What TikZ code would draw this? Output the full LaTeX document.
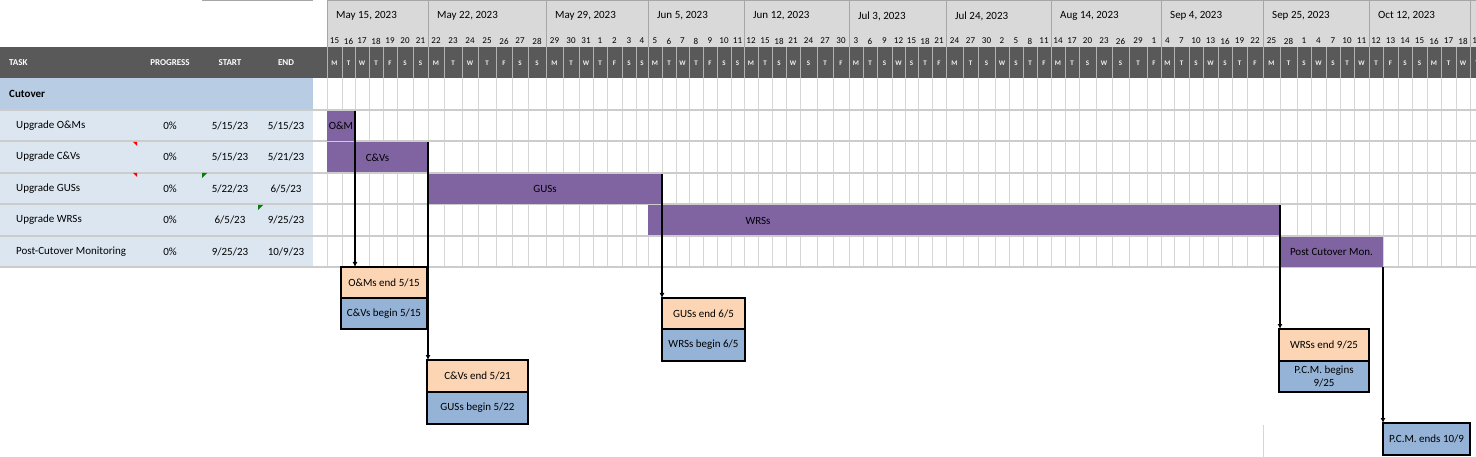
\documentclass[tikz,border=0pt]{standalone}
\usepackage{fontspec}
\setmainfont{Carlito}
\usetikzlibrary{positioning,arrows.meta}

\definecolor{hdrGray}{HTML}{D9D9D9}
\definecolor{darkHdr}{HTML}{595959}
\definecolor{cutBlue}{HTML}{B8CCE4}
\definecolor{rowBlue}{HTML}{DCE6F1}
\definecolor{barPurple}{HTML}{8064A2}
\definecolor{endPeach}{HTML}{FCD5B4}
\definecolor{beginBlue}{HTML}{95B3D7}
\definecolor{gridGray}{HTML}{D6D6D6}

\begin{document}
\begin{tikzpicture}[
            x=1pt, y=-1pt,
            font=\fontsize{11}{13}\selectfont,
            cell/.style={inner sep=0pt},
            hdrtext/.style={inner sep=0pt, text=white, font=\fontsize{9}{10}\selectfont\bfseries},
            daynum/.style={inner sep=0pt, font=\fontsize{9}{10}\selectfont},
            dayletter/.style={inner sep=0pt, text=white!88!gray, font=\fontsize{7}{8}\selectfont\bfseries},
            bar/.style={rectangle, fill=barPurple, anchor=north west, minimum height=30, inner sep=1pt, outer sep=0pt},
            endbox/.style={rectangle, draw=black, fill=endPeach, line width=1.5pt, anchor=north west, inner sep=1pt, outer sep=0pt, align=center},
            beginbox/.style={endbox, fill=beginBlue},
            arrow/.style={-{Latex[length=5pt, width=5pt]}, line width=1.5pt},
            gridline/.style={gridGray, line width=1pt},
            rowline/.style={gray!40, line width=2pt}
        ]
        \useasboundingbox (0,0) rectangle (1476,457);
        \clip (0,0) rectangle (1476,457);

        % Header bands
        \fill[hdrGray] (327,0) rectangle (1476,47);
        \fill[darkHdr] (0,47) rectangle (1476,78);
        \draw[gray!70, line width=1pt] (202,0.5) -- (313,0.5);
        \draw[gray!70, line width=1pt] (327,0.5) -- (1476,0.5);

        % Task table
        \fill[cutBlue] (0,78) rectangle (313,110);
        \fill[rowBlue] (0,110) rectangle (313,267);

        % Weeks
        \foreach \b/\wk [count=\i] in {327/{May 15, 2023}, 428/{May 22, 2023}, 546/{May 29, 2023}, 648/{Jun 5, 2023}, 744/{Jun 12, 2023}, 849/{Jul 3, 2023}, 946/{Jul 24, 2023}, 1051/{Aug 14, 2023}, 1161/{Sep 4, 2023}, 1263/{Sep 25, 2023}, 1369/{Oct 12, 2023}} {
            \draw[gray!70, line width=1pt] (\b,0) -- (\b,47);
            \node[cell, anchor=west, name=wk\i] at (\b+9,16) {\wk};
        }
        \draw[gray!70, line width=1pt] (1470,0) -- (1470,47);

        % Days
        \foreach \xr/\dnum/\dlet [count=\i, remember=\xr as \px (initially 327)] in {
            342/15/M, 355/16/T, 369/17/W, 383/18/T, 397/19/F, 413/20/S, 428/21/S,
            444/22/M, 462/23/T, 478/24/W, 496/25/T, 512/26/F, 528/27/S, 546/28/S,
            563/29/M, 579/30/T, 593/31/W, 607/1/T, 622/2/F, 636/3/S, 648/4/S,
            662/5/M, 676/6/T, 689/7/W, 703/8/T, 717/9/F, 731/10/S, 744/11/S,
            758/12/M, 772/15/T, 786/18/S, 800/21/W, 817/24/S, 833/27/T, 849/30/F,
            863/3/M, 877/6/T, 892/9/S, 905/12/W, 918/15/S, 932/18/T, 946/21/F,
            963/24/M, 978/27/T, 995/30/S, 1009/2/W, 1023/5/S, 1037/8/T, 1051/11/F,
            1065/14/M, 1079/17/T, 1096/20/S, 1112/23/W, 1129/26/S, 1147/29/T, 1161/1/F,
            1174/4/M, 1189/7/T, 1203/10/S, 1218/13/W, 1232/16/S, 1247/19/T, 1263/22/F,
            1280/25/M, 1297/28/T, 1311/1/S, 1326/4/W, 1340/7/S, 1354/10/T, 1369/11/W,
            1383/12/T, 1398/13/F, 1412/14/S, 1427/15/S, 1441/16/M, 1456/17/T, 1470/18/W,
            1484/19/T} {
            \node[daynum, name=dn\i] at ({(\px+\xr)/2},41) {\dnum};
            \node[dayletter, name=dl\i] at ({(\px+\xr)/2},63) {\dlet};
            \draw[gray!60, line width=1pt] (\xr,47) -- (\xr,78);
            \draw[gridline] (\xr,78) -- (\xr,267);
        }
        \draw[gray!60, line width=1pt] (327,47) -- (327,78);
        \draw[gridline] (327,78) -- (327,267);

        % Row separators
        \foreach \y in {110,141.5,173,204.5,236,267}
            \draw[rowline] (0,\y) -- (1476,\y);

        % Table text
        \node[hdrtext, anchor=west] (hTask) at (9,63) {TASK};
        \node[hdrtext] (hProg) at (170,63) {PROGRESS};
        \node[hdrtext] (hStart) at (230,63) {START};
        \node[hdrtext] (hEnd) at (286,63) {END};
        \node[cell, anchor=west, font=\fontsize{11}{13}\selectfont\bfseries] (cutover) at (9,94) {Cutover};

        \foreach \y/\task/\tstart/\tend [count=\r] in {126/{Upgrade O\&Ms}/{5/15/23}/{5/15/23}, 157/{Upgrade C\&Vs}/{5/15/23}/{5/21/23}, 188.5/{Upgrade GUSs}/{5/22/23}/{6/5/23}, 220/{Upgrade WRSs}/{6/5/23}/{9/25/23}, 251.5/{Post-Cutover Monitoring}/{9/25/23}/{10/9/23}} {
            \node[cell, anchor=west, name=task\r] at (16,\y) {\task};
            \node[cell, name=prog\r] at (170,\y) {0\%};
            \node[cell, name=start\r] at (230,\y) {\tstart};
            \node[cell, name=end\r] at (286,\y) {\tend};
        }

        % Comment markers
        \fill[red] (133,142) -- (137,142) -- (137,146) -- cycle;
        \fill[red] (133,173) -- (137,173) -- (137,177) -- cycle;
        \fill[green!50!black] (202,173) -- (207,173) -- (202,178) -- cycle;
        \fill[green!50!black] (258,205) -- (263,205) -- (258,210) -- cycle;

        % Bars
        \node[bar, minimum width=28] (omBar) at (327,111) {O\&M};
        \node[bar, minimum width=101] (cvBar) at (327,142.5) {C\&Vs};
        \node[bar, minimum width=234] (gusBar) at (428,174) {GUSs};
        \node[bar, minimum width=632] (wrsBar) at (648,205.5) {};
        \node[cell] (wrsText) at (758,220.5) {WRSs};
        \node[bar, minimum width=103] (pcmBar) at (1280,237) {Post Cutover Mon.};

        % Milestones
        \node[endbox, minimum width=86, minimum height=31] (omEnd) at (341,267) {O\&Ms end 5/15};
        \node[beginbox, minimum width=86, minimum height=31, below=0pt of omEnd] (cvBegin) {C\&Vs begin 5/15};
        \node[endbox, minimum width=101, minimum height=32] (cvEnd) at (427,360) {C\&Vs end 5/21};
        \node[beginbox, minimum width=101, minimum height=32, below=0pt of cvEnd] (gusBegin) {GUSs begin 5/22};
        \node[endbox, minimum width=83, minimum height=31] (gusEnd) at (662,298) {GUSs end 6/5};
        \node[beginbox, minimum width=83, minimum height=32, below=0pt of gusEnd] (wrsBegin) {WRSs begin 6/5};
        \node[endbox, minimum width=90, minimum height=32] (wrsEnd) at (1279,329) {WRSs end 9/25};
        \node[beginbox, minimum width=90, minimum height=31, below=0pt of wrsEnd] (pcmBegin) {P.C.M. begins\\9/25};
        \node[beginbox, minimum width=87, minimum height=32] (pcmEnd) at (1383,423) {P.C.M. ends 10/9};

        % Arrows
        \draw[arrow] (omBar.north east) -- (omBar.north east |- omEnd.north);
        \draw[arrow] (cvBar.north east) -- (cvBar.north east |- cvEnd.north);
        \draw[arrow] (gusBar.north east) -- (gusBar.north east |- gusEnd.north);
        \draw[arrow] (wrsBar.north east) -- (wrsBar.north east |- wrsEnd.north);
        \draw[arrow] (pcmBar.south east) -- (pcmBar.south east |- pcmEnd.north);

        \draw[gridline] (1263,425) -- (1263,457);

        \end{tikzpicture}
\end{document}
